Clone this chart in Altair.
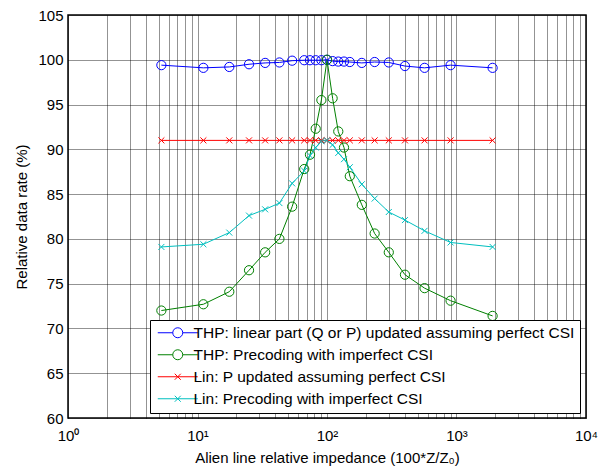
import altair as alt
import pandas as pd

# Alien line relative impedance (100*Z/Z0)
x_vals = [5.26, 11.1, 17.6, 25.0, 33.3, 42.9, 53.8, 66.7, 73.9, 81.8, 90.5, 100.0,
          110.5, 122.2, 135.3, 150.0, 185.7, 233.3, 300.0, 400.0, 566.7, 900.0, 1900.0]

thp_perfect = [99.4, 99.1, 99.2, 99.5, 99.65, 99.7, 99.9, 99.95, 99.95, 99.95, 99.95, 100.0,
               99.85, 99.8, 99.8, 99.75, 99.65, 99.75, 99.7, 99.3, 99.1, 99.4, 99.1]
thp_imperfect = [72.0, 72.7, 74.1, 76.5, 78.5, 80.0, 83.6, 87.8, 89.4, 92.3, 95.5, 100.0,
                 95.7, 92.0, 90.2, 87.0, 83.8, 80.6, 78.5, 76.0, 74.5, 73.1, 71.4]
lin_perfect = [91.0] * 23
lin_imperfect = [79.1, 79.4, 80.7, 82.6, 83.3, 84.0, 86.2, 87.6, 89.3, 90.2, 90.9, 91.0,
                 90.5, 89.6, 88.9, 88.0, 86.1, 84.5, 83.0, 82.1, 80.9, 79.6, 79.1]

series_names = [
    "THP: linear part (Q or P) updated assuming perfect CSI",
    "THP: Precoding with imperfect CSI",
    "Lin: P updated assuming perfect CSI",
    "Lin: Precoding with imperfect CSI",
]
series_values = [thp_perfect, thp_imperfect, lin_perfect, lin_imperfect]
series_colors = ["#0000ff", "#008000", "#ff0000", "#00bfbf"]
circle_series = series_names[:2]
cross_series = series_names[2:]

x_tick_powers = [1, 10, 100, 1000, 10000]
x_tick_labels = ["10\u2070", "10\u00b9", "10\u00b2", "10\u00b3", "10\u2074"]
x_grid_values = [m * p for p in [1, 10, 100, 1000] for m in range(1, 10)] + [10000]
y_tick_values = list(range(60, 110, 5))

rows = []
for name, vals in zip(series_names, series_values):
    for xv, yv in zip(x_vals, vals):
        rows.append({"x": xv, "y": yv, "series": name})
df = pd.DataFrame(rows)

FONT = "Liberation Sans"
X_PATH = "M-0.65,-0.65L0.65,0.65M0.65,-0.65L-0.65,0.65"
# legend symbols: a line segment with the marker in its middle, drawn to the right of the anchor
LEG_CIRCLE = "M0,0L3,0M5,0L8,0M5,0A1,1,0,1,1,3,0A1,1,0,1,1,5,0"
LEG_X = "M0,0L8,0M3.4,-0.6L4.6,0.6M4.6,-0.6L3.4,0.6"

label_expr = ""
for p, lab in zip(x_tick_powers, x_tick_labels):
    label_expr += f"datum.value == {p} ? '{lab}' : "
label_expr += "''"

legend = alt.Legend(
    title=None,
    orient="none",
    legendX=82,
    legendY=305,
    fillColor="white",
    strokeColor="black",
    padding=5,
    labelFont=FONT,
    labelFontSize=15.5,
    labelColor="black",
    labelLimit=0,
    labelOffset=28,
    symbolSize=100,
    symbolOffset=-5,
    symbolOpacity=1,
    symbolFillColor="transparent",
    symbolStrokeWidth=1,
    rowPadding=5,
)

x_enc = alt.X(
    "x:Q",
    scale=alt.Scale(type="log", domain=[1, 10000]),
    axis=alt.Axis(
        values=x_grid_values,
        labelExpr=label_expr,
        labelOverlap=False,
        labelFlush=False,
        grid=True,
        gridColor="black",
        gridDash=[1, 1],
        gridOpacity=0.85,
        ticks=False,
        domain=False,
        labelFont=FONT,
        labelFontSize=15,
        labelColor="black",
        labelPadding=10,
        title="Alien line relative impedance (100*Z/Z\u2080)",
        titleFont=FONT,
        titleFontSize=15,
        titleFontWeight="normal",
        titleColor="black",
        titlePadding=7,
    ),
)
y_enc = alt.Y(
    "y:Q",
    scale=alt.Scale(domain=[60, 105], nice=False, zero=False),
    axis=alt.Axis(
        values=y_tick_values,
        grid=True,
        gridColor="black",
        gridDash=[1, 1],
        gridOpacity=0.85,
        ticks=False,
        domain=False,
        labelFont=FONT,
        labelFontSize=15,
        labelColor="black",
        labelPadding=5,
        title="Relative data rate (%)",
        titleFont=FONT,
        titleFontSize=15,
        titleFontWeight="normal",
        titleColor="black",
        titlePadding=8,
    ),
)
color_scale = alt.Scale(domain=series_names, range=series_colors)
color_enc = alt.Color("series:N", scale=color_scale, legend=legend)

base = alt.Chart(df)
lines = base.mark_line(strokeWidth=1).encode(x=x_enc, y=y_enc, color=color_enc)
circle_points = (
    base.transform_filter(alt.FieldOneOfPredicate(field="series", oneOf=circle_series))
    .mark_point(filled=False, strokeWidth=1, size=85, opacity=1, shape="circle")
    .encode(x=x_enc, y=y_enc, color=color_enc)
)
cross_points = (
    base.transform_filter(alt.FieldOneOfPredicate(field="series", oneOf=cross_series))
    .mark_point(filled=False, strokeWidth=1, size=85, opacity=1, shape=X_PATH)
    .encode(x=x_enc, y=y_enc, color=color_enc)
)
legend_layer = base.mark_point(filled=False, strokeWidth=1, size=100, opacity=0).encode(
    x=x_enc,
    y=y_enc,
    color=color_enc,
    shape=alt.Shape(
        "series:N",
        scale=alt.Scale(domain=series_names, range=[LEG_CIRCLE, LEG_CIRCLE, LEG_X, LEG_X]),
        legend=legend,
    ),
)

chart = (
    alt.layer(lines, circle_points, cross_points, legend_layer)
    .properties(
        width=518,
        height=403,
        padding={"left": 60, "top": 7, "right": 12, "bottom": 50},
        autosize=alt.AutoSizeParams(type="none"),
        background="white",
    )
    .configure_view(stroke="black", strokeWidth=1.5)
)

chart.save("out.html", embed_options={"renderer": "svg", "actions": False})
